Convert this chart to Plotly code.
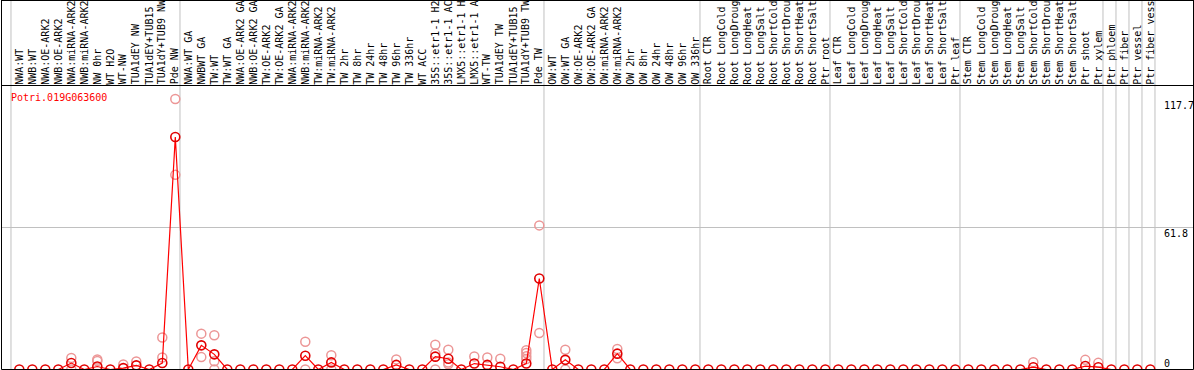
import plotly.graph_objects as go

W, H = 1194, 370

labels = [
    "NWA:WT", "NWB:WT", "NWA:OE-ARK2", "NWB:OE-ARK2", "NWA:miRNA-ARK2", "NWB:miRNA-ARK2",
    "NW 0hr", "WT H2O", "WT-NW", "TUA1dEY NW", "TUA1dEY+TUB15", "TUA1dY+TUB9 NW", "Pde NW",
    "NWA:WT GA", "NWBWT GA", "TW:WT", "TW:WT GA", "NWA:OE-ARK2 GA", "NWB:OE-ARK2 GA",
    "TW:OE-ARK2", "TW:OE-ARK2 GA", "NWA:miRNA-ARK2", "NWB:miRNA-ARK2", "TW:miRNA-ARK2",
    "TW:miRNA-ARK2", "TW 2hr", "TW 8hr", "TW 24hr", "TW 48hr", "TW 96hr", "TW 336hr",
    "WT ACC", "35S::etr1-1 H2O", "35S::etr1-1 ACC", "LMX5::etr1-1 H2O", "LMX5::etr1-1 ACC",
    "WT-TW", "TUA1dEY TW", "TUA1dEY+TUB15", "TUA1dY+TUB9 TW", "Pde TW",
    "OW:WT", "OW:WT GA", "OW:OE-ARK2", "OW:OE-ARK2 GA", "OW:miRNA-ARK2", "OW:miRNA-ARK2",
    "OW 2hr", "OW 8hr", "OW 24hr", "OW 48hr", "OW 96hr", "OW 336hr",
    "Root CTR", "Root LongCold", "Root LongDrought", "Root LongHeat", "Root LongSalt",
    "Root ShortCold", "Root ShortDrought", "Root ShortHeat", "Root ShortSalt", "Ptr root",
    "Leaf CTR", "Leaf LongCold", "Leaf LongDrought", "Leaf LongHeat", "Leaf LongSalt",
    "Leaf ShortCold", "Leaf ShortDrought", "Leaf ShortHeat", "Leaf ShortSalt", "Ptr leaf",
    "Stem CTR", "Stem LongCold", "Stem LongDrought", "Stem LongHeat", "Stem LongSalt",
    "Stem ShortCold", "Stem ShortDrought", "Stem ShortHeat", "Stem ShortSalt", "Ptr shoot",
    "Ptr xylem", "Ptr phloem", "Ptr fiber", "Ptr vessel", "Ptr fiber vessel",
]

mean_vals = [
    0, 0, 0, 0, 2.8, 0, 1.3, 0, 0.6, 1.8, 0, 2.8, 101.2,
    0, 10.5, 6.6, 0, 0, 0, 0, 0, 0, 6.0, 0, 3.1, 0, 0, 0, 0, 2.0, 0,
    0, 5.6, 4.7, 0, 2.6, 2.0, 1.2, 0, 2.6, 39.6,
    0, 4.2, 0, 0, 0, 6.9, 0, 0, 0, 0, 0, 0,
    0, 0, 0, 0, 0, 0, 0, 0, 0, 0,
    0, 0, 0, 0, 0, 0, 0, 0, 0, 0,
    0, 0, 0, 0, 0, 1.0, 0, 0, 0, 1.5, 1.0,
    0, 0, 0, 0,
]

rep_idx = [4, 4, 6, 6, 8, 9, 11, 11, 12, 12, 14, 14, 15, 15, 15,
           22, 22, 24, 24, 29, 32, 32, 32, 33, 33, 33, 35, 36, 37,
           39, 39, 39, 39, 40, 40, 42, 42, 46, 46, 78, 82, 83]
rep_val = [5.0, 0, 4.4, 3.7, 2.2, 3.5, 13.9, 5.2, 117.7, 84.7, 15.6, 5.4, 14.9, 3.6, 0,
           12.1, 0, 6.2, 0, 4.4, 10.8, 7.0, 0, 8.6, 3.0, 2.3, 5.7, 5.2, 4.7,
           8.4, 7.2, 5.8, 4.6, 62.7, 15.9, 8.6, 0, 8.9, 4.9, 3.2, 4.2, 2.9]

group_starts = [0, 13, 41, 53, 63, 73, 84, 85, 86, 87, 88]
gene = "Potri.019G063600"
y_max = 117.7
y_mid = 61.8

# layout geometry (pixels)
px_left, px_right = 1.5, 1193.5
py_top, py_bot = 85.5, 369.5
first_px, step_px = 19.3, 13.0
x0 = -(first_px - px_left) / step_px
x1 = x0 + (px_right - px_left) / step_px

mono = "DejaVu Sans Mono"

fig = go.Figure()
fig.add_trace(go.Scatter(
    x=rep_idx, y=rep_val, mode="markers", cliponaxis=False, hoverinfo="skip",
    marker=dict(symbol="circle-open", size=9, color="rgb(236,150,150)", line=dict(width=1.5)),
))
fig.add_trace(go.Scatter(
    x=list(range(len(labels))), y=mean_vals, mode="lines+markers", cliponaxis=False,
    line=dict(color="rgb(255,0,0)", width=1.2),
    marker=dict(symbol="circle-open", size=9, color="rgb(225,0,0)", line=dict(width=1.6)),
))

annotations = []
for i, lab in enumerate(labels):
    annotations.append(dict(
        x=i, xref="x", y=1 - py_top / H, yref="paper", text=lab, showarrow=False,
        textangle=-90, xanchor="center", yanchor="bottom",
        font=dict(family=mono, size=10, color="black"), borderpad=0,
    ))
annotations.append(dict(
    x=9 / W, xref="paper", y=1 - 97 / H, yref="paper", text=gene, showarrow=False,
    xanchor="left", yanchor="middle", font=dict(family=mono, size=10, color="red"),
))
for v, anc in [(y_max, "top"), (y_mid, "top"), (0, "bottom")]:
    annotations.append(dict(
        x=1163 / W, xref="paper", y=v, yref="y", text=f"{v:g}", showarrow=False,
        xanchor="left", yanchor=anc, font=dict(family=mono, size=10, color="black"),
        borderpad=0,
    ))

shapes = []
for s in group_starts:
    shapes.append(dict(type="line", xref="x", yref="paper", x0=s - 0.64, x1=s - 0.64,
                       y0=1 - py_bot / H, y1=1, line=dict(color="#c0c0c0", width=1), layer="below"))
black = dict(color="black", width=1)
for (a, b, c, d) in [
    (px_left, 0.5, px_right, 0.5),
    (px_left, py_top, px_right, py_top),
    (px_left, py_bot, px_right, py_bot),
    (px_left, 0, px_left, py_bot),
    (px_right, 0, px_right, py_bot),
]:
    shapes.append(dict(type="line", xref="paper", yref="paper",
                       x0=a / W, x1=c / W, y0=1 - b / H, y1=1 - d / H, line=black, layer="above"))

fig.update_layout(
    width=W, height=H, margin=dict(l=0, r=0, t=0, b=0),
    paper_bgcolor="white", plot_bgcolor="white", showlegend=False,
    xaxis=dict(domain=[px_left / W, px_right / W], range=[x0, x1], showgrid=False,
               zeroline=False, showticklabels=False, ticks="", fixedrange=True),
    yaxis=dict(domain=[1 - py_bot / H, 1 - py_top / H], range=[0, y_max * 1.05],
               tickvals=[y_mid], showgrid=True, gridcolor="#c0c0c0", gridwidth=1,
               zeroline=False, showticklabels=False, ticks="", fixedrange=True),
    annotations=annotations, shapes=shapes,
)

fig.write_html(
    "out.html",
    config={"displayModeBar": False, "staticPlot": True},
    post_script="document.body.style.margin='0';document.body.style.overflow='hidden';",
)
